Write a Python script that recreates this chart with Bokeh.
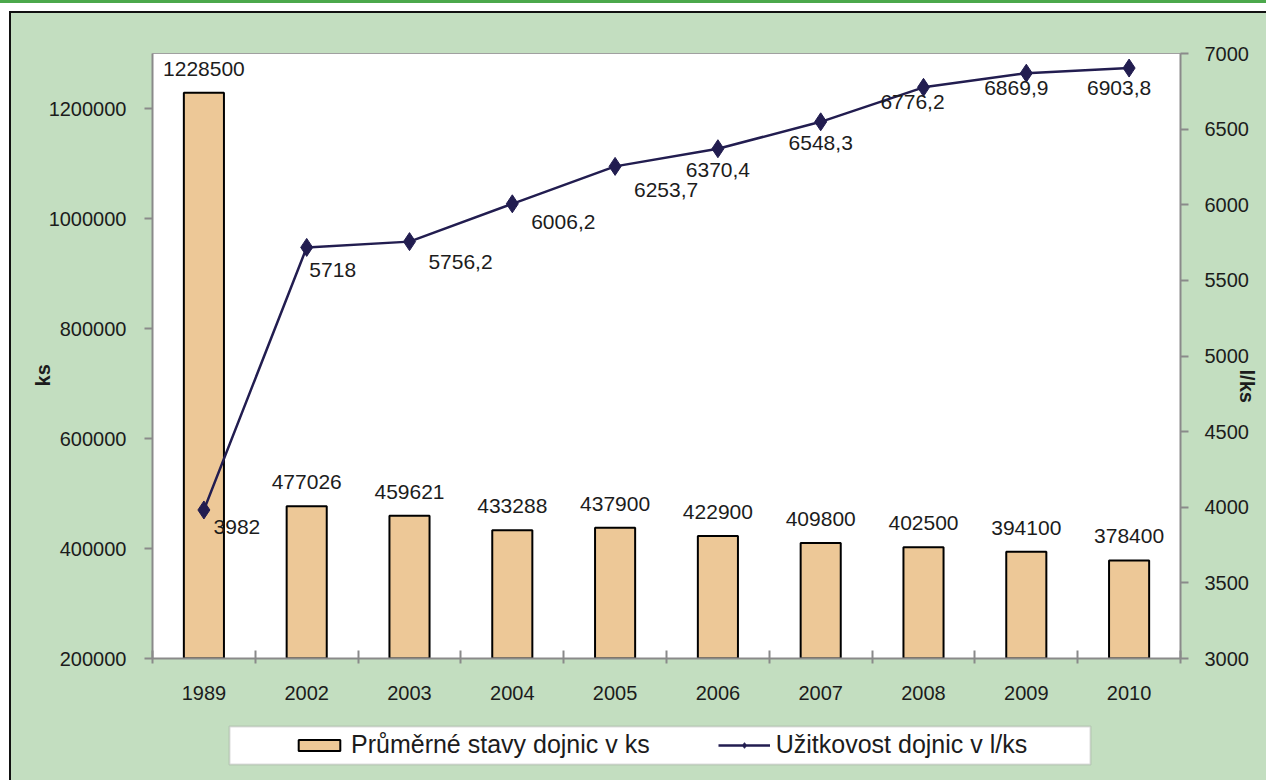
from bokeh.plotting import figure
from bokeh.layouts import column
from bokeh.models import (Range1d, LinearAxis, FixedTicker, ColumnDataSource, Legend,
                          LegendItem, InlineStyleSheet, BoxAnnotation)
from bokeh.core.properties import value
from bokeh.embed import file_html
from bokeh.resources import INLINE

# ---- data ----
years = ["1989", "2002", "2003", "2004", "2005", "2006", "2007", "2008", "2009", "2010"]
herd = [1228500, 477026, 459621, 433288, 437900, 422900, 409800, 402500, 394100, 378400]
milk_yield = [3982, 5718, 5756.2, 6006.2, 6253.7, 6370.4, 6548.3, 6776.2, 6869.9, 6903.8]
left_ticks = [200000, 400000, 600000, 800000, 1000000, 1200000]
right_ticks = [3000, 3500, 4000, 4500, 5000, 5500, 6000, 6500, 7000]
bar_name = "Průměrné stavy dojnic v ks"
line_name = "Užitkovost dojnic v l/ks"
left_title = "ks"
right_title = "l/ks"

# where the axis titles sit along their axes (layout only)
left_title_at = 715000
right_title_at = 4800

# label placement (pixels) for the line's data labels
lab_dx = [33, 26, 51, 51, 51, 0, 0, -11, -10, -10]
lab_dy = [17, 23, 20, 18, 24, 21, 21, 15, 15, 20]

FONT = "Liberation Sans"
GREEN = "#c3dec0"
TXT = "#1c1c1c"
AXC = "#8a8a8a"
BAR_FILL = "#edc897"
LINE_C = "#221d50"

n = len(years)
xs = [i + 0.5 for i in range(n)]

MAIN_H = 705
p = figure(width=1266, height=MAIN_H, output_backend="svg", toolbar_location=None,
           x_range=Range1d(0, n), y_range=Range1d(200000, 1300000),
           min_border_left=152, min_border_right=86, min_border_top=53, min_border_bottom=47)
p.extra_y_ranges = {"right": Range1d(3000, 7000)}
p.border_fill_color = GREEN
p.background_fill_color = "white"
p.outline_line_color = "#a0a0a0"
p.outline_line_width = 1
p.xgrid.visible = False
p.ygrid.visible = False

# page decoration: green top rule, white band, black frame
p.stylesheets = [InlineStyleSheet(css="""
:host::before { content: ""; position: absolute; left: 0; top: 0; width: 100%; height: 12px;
  background: linear-gradient(to bottom, #4ba84b 0px, #4ba84b 3px, #ffffff 3px, #ffffff 12px);
  z-index: 10; pointer-events: none; }
:host::after { content: ""; position: absolute; left: 9px; top: 11px; right: 0; bottom: 0;
  border-style: solid; border-color: #111; border-width: 2px 0 0 2px;
  box-shadow: -9px 0 0 0 #ffffff; z-index: 10; pointer-events: none; }
""")]

# ---- bars ----
bsrc = ColumnDataSource(dict(x=xs, top=herd, lab=[str(v) for v in herd]))
p.vbar(x="x", top="top", bottom=200000, width=0.39, source=bsrc,
       fill_color=BAR_FILL, line_color="black", line_width=2)
p.text(x="x", y="top", text="lab", source=bsrc, text_align="center", text_baseline="bottom",
       y_offset=-17, text_font=value(FONT), text_font_size="21px", text_color=TXT)

# ---- line ----
lsrc = ColumnDataSource(dict(x=xs, y=milk_yield,
                             lab=[f"{v:g}".replace(".", ",") for v in milk_yield],
                             dx=lab_dx, dy=lab_dy))
p.line(x="x", y="y", source=lsrc, y_range_name="right", line_color=LINE_C, line_width=2.5)
p.scatter(x="x", y="y", source=lsrc, y_range_name="right", marker="diamond", size=18,
          fill_color=LINE_C, line_color=LINE_C)
p.text(x="x", y="y", text="lab", source=lsrc, y_range_name="right", x_offset="dx", y_offset="dy",
       text_align="center", text_baseline="middle", text_font=value(FONT),
       text_font_size="21px", text_color=TXT)

# ---- axes ----
def style_axis(ax):
    ax.axis_line_color = AXC
    ax.axis_line_width = 2
    ax.major_tick_line_color = AXC
    ax.major_tick_line_width = 2
    ax.minor_tick_line_color = None
    ax.major_label_text_font = FONT
    ax.major_label_text_font_size = "20px"
    ax.major_label_text_color = TXT

def title_axis(ax, txt, at, standoff):
    ax.ticker = FixedTicker(ticks=[at])
    ax.major_label_overrides = {at: txt}
    ax.major_label_orientation = "vertical"
    ax.axis_line_color = None
    ax.major_tick_line_color = None
    ax.minor_tick_line_color = None
    ax.major_tick_in = 0
    ax.major_tick_out = 0
    ax.major_label_standoff = standoff
    ax.major_label_text_font = FONT
    ax.major_label_text_font_size = "20px"
    ax.major_label_text_font_style = "bold"
    ax.major_label_text_color = TXT

xa = p.xaxis[0]
style_axis(xa)
xa.ticker = FixedTicker(ticks=xs, minor_ticks=list(range(n + 1)))
xa.major_label_overrides = {x: y for x, y in zip(xs, years)}
xa.major_tick_in = 0
xa.major_tick_out = 0
xa.minor_tick_in = 8
xa.minor_tick_out = 5
xa.minor_tick_line_color = AXC
xa.minor_tick_line_width = 2
xa.major_label_standoff = 22

ya = p.yaxis[0]
style_axis(ya)
ya.ticker = FixedTicker(ticks=left_ticks)
ya.formatter.use_scientific = False
ya.major_tick_in = 0
ya.major_tick_out = 8
ya.major_label_standoff = 18

lt = LinearAxis()
title_axis(lt, left_title, left_title_at, -8)
p.add_layout(lt, "left")

ra = LinearAxis(y_range_name="right", ticker=FixedTicker(ticks=right_ticks))
style_axis(ra)
ra.major_tick_in = 0
ra.major_tick_out = 8
ra.major_label_standoff = 16
p.add_layout(ra, "right")

rt = LinearAxis(y_range_name="right")
title_axis(rt, right_title, right_title_at, -16)
p.add_layout(rt, "right")

# ---- legend strip (separate figure below the chart) ----
LEG_H = 780 - MAIN_H
pl = figure(width=1266, height=LEG_H, output_backend="svg", toolbar_location=None,
            x_range=Range1d(0, 1), y_range=Range1d(0, 1),
            x_axis_location=None, y_axis_location=None,
            min_border_left=152, min_border_right=86, min_border_top=0, min_border_bottom=0)
pl.border_fill_color = None
pl.background_fill_color = None
pl.outline_line_color = None
pl.xgrid.visible = False
pl.ygrid.visible = False
pl.stylesheets = [InlineStyleSheet(css="""
:host { background: #c3dec0; }
:host::after { content: ""; position: absolute; left: 9px; top: 0; right: 0; bottom: 0;
  border-style: solid; border-color: #111; border-width: 0 0 0 2px;
  box-shadow: -9px 0 0 0 #ffffff; z-index: 10; pointer-events: none; }
""")]

# legend swatches (a single empty, non-drawn point each)
nan = float("nan")
sw_bar = pl.vbar(x=[nan], top=[nan], width=0.1, fill_color=BAR_FILL, line_color="black", line_width=2)
sw_line = pl.line(x=[nan], y=[nan], line_color=LINE_C, line_width=2.5)
sw_pt = pl.scatter(x=[nan], y=[nan], marker="diamond", size=20, fill_color=LINE_C, line_color=LINE_C)

pl.add_layout(BoxAnnotation(left=229, right=1090, top=21, bottom=59,
                            left_units="canvas", right_units="canvas",
                            top_units="canvas", bottom_units="canvas",
                            fill_color="white", fill_alpha=1,
                            line_color="#8c8c8c", line_width=2))
legend = Legend(items=[LegendItem(label=bar_name, renderers=[sw_bar]),
                       LegendItem(label=line_name, renderers=[sw_line, sw_pt])],
                location=(141, 21), orientation="horizontal",
                background_fill_alpha=0, border_line_color=None,
                padding=0, margin=0, spacing=68, label_standoff=6,
                glyph_width=52, glyph_height=14,
                label_text_font=FONT, label_text_font_size="25px", label_text_color=TXT)
pl.add_layout(legend)

open("out.html", "w").write(file_html(column(p, pl, spacing=0), INLINE))
